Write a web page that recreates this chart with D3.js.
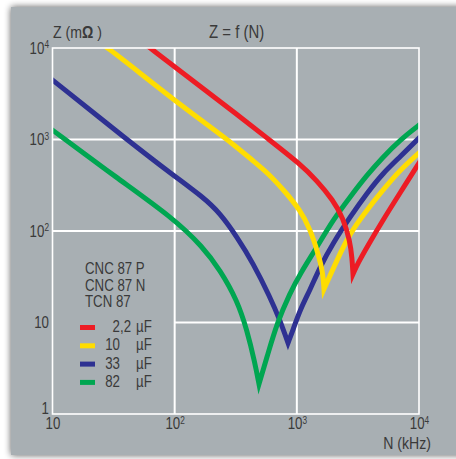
<!DOCTYPE html>
<html>
<head>
<meta charset="utf-8">
<script src="https://cdn.jsdelivr.net/npm/d3@7"></script>
<style>
  html, body { margin: 0; padding: 0; background: #ffffff; }
  svg { display: block; }
  text { font-family: "Liberation Sans", Arial, sans-serif; fill: #3a3a3a; }
</style>
</head>
<body>
<svg id="chart" width="456" height="459"></svg>
<script>
// Impedance versus frequency for four capacitor values (log-log)
const capLabels = ["2,2", "10", "33", "82"];
const capColors = ["#ed1c24", "#ffdd00", "#2e3192", "#00a651"];

// N in kHz, Z in mOhm
const freq22 = [43.1, 62.8, 161, 312, 581, 1061, 1462, 1977, 2387, 2724, 2829, 2883, 3168, 3752, 5074, 6988, 10000, 12300];
const imp22  = [14960, 10000, 3840, 1950, 1018, 543, 354, 218, 140, 77.7, 50.7, 33.9, 44.7, 66.9, 132, 260, 554, 849];

const freq10 = [19.5, 28.5, 52.0, 96.9, 177, 312, 430, 581, 800, 1061, 1282, 1490, 1637, 1668, 2132, 2724, 3752, 5074, 6988, 10000, 12300];
const imp10  = [14220, 10000, 5330, 2771, 1514, 860, 597, 430, 270, 170, 106, 57.5, 34.8, 23.2, 48.2, 95.1, 170, 281, 464, 712, 915];

const freq33 = [7.9, 10, 43.1, 96.9, 170.5, 235, 324, 438, 603, 728, 847, 930, 1061, 1282, 1547, 1977, 2724, 3752, 5074, 6988, 10000, 12300];
const imp33  = [5750, 4470, 939, 409, 235, 157, 86.0, 44.7, 19.0, 10.6, 5.97, 8.28, 13.7, 22.7, 40.4, 73.9, 142, 260, 430, 644, 1038, 1370];

const freq82 = [7.9, 10, 33.7, 96.9, 170.5, 235, 324, 391, 454, 490, 570, 688, 879, 1061, 1462, 1977, 2724, 3752, 5074, 6988, 10000, 12300];
const imp82  = [1593, 1270, 380, 139, 66.9, 37.5, 17.6, 8.28, 3.61, 2.13, 4.20, 9.87, 21.0, 33.9, 66.9, 132, 235, 409, 644, 987, 1440, 1762];

const xTicks = [10, 100, 1000, 10000];
const xTickBase = ["10", "10", "10", "10"];
const xTickExp  = ["", "2", "3", "4"];
const yTicks = [1, 10, 100, 1000, 10000];
const yTickBase = ["1", "10", "10", "10", "10"];
const yTickExp  = ["", "", "2", "3", "4"];

const legendHeader = ["CNC 87 P", "CNC 87 N", "TCN 87"];

const series = [
  { freq: freq22, imp: imp22, color: capColors[0] },
  { freq: freq10, imp: imp10, color: capColors[1] },
  { freq: freq33, imp: imp33, color: capColors[2] },
  { freq: freq82, imp: imp82, color: capColors[3] }
];

const W = 456, H = 459;
const plot = { left: 52.5, right: 419, top: 48, bottom: 414 };
const NARROW = 0.83;   // horizontal squeeze that gives the condensed lettering

const svg = d3.select("#chart");
const defs = svg.append("defs");

// soft drop shadow under the grey panel
const f = defs.append("filter").attr("id", "panelShadow")
  .attr("x", "-10%").attr("y", "-10%").attr("width", "120%").attr("height", "120%");
f.append("feGaussianBlur").attr("in", "SourceAlpha").attr("stdDeviation", 3.5).attr("result", "blur");
f.append("feComponentTransfer").attr("in", "blur").attr("result", "shade")
  .append("feFuncA").attr("type", "linear").attr("slope", 0.65);
const merge = f.append("feMerge");
merge.append("feMergeNode").attr("in", "shade");
merge.append("feMergeNode").attr("in", "SourceGraphic");

defs.append("clipPath").attr("id", "plotClip")
  .append("rect")
  .attr("x", plot.left).attr("y", plot.top)
  .attr("width", plot.right - plot.left).attr("height", plot.bottom - plot.top);

svg.append("rect").attr("width", W).attr("height", H).attr("fill", "#ffffff");
svg.append("rect")
  .attr("x", 11).attr("y", 7).attr("width", 470).attr("height", 448)
  .attr("fill", "#a8afb3")
  .attr("filter", "url(#panelShadow)");

const x = d3.scaleLog().domain([10, 10000]).range([plot.left, plot.right]);
const y = d3.scaleLog().domain([1, 10000]).range([plot.bottom, plot.top]);

// grid
const grid = svg.append("g").attr("stroke", "#ffffff").attr("stroke-width", 2);
grid.selectAll("line.v").data(xTicks.slice(1, -1)).join("line")
  .attr("x1", d => x(d)).attr("x2", d => x(d))
  .attr("y1", plot.top).attr("y2", plot.bottom);
grid.selectAll("line.h").data(yTicks.slice(1, -1)).join("line")
  .attr("x1", d => d === 10 ? x(100) : plot.left).attr("x2", plot.right)
  .attr("y1", d => y(d)).attr("y2", d => y(d));

// curves: smooth branches meeting in a sharp resonance tip
const branch = d3.line().x(d => x(d[0])).y(d => y(d[1])).curve(d3.curveBasis);
const curves = svg.append("g").attr("clip-path", "url(#plotClip)");
const drawOrder = [2, 3, 1, 0];
drawOrder.forEach(i => {
  const s = series[i];
  const pts = s.freq.map((v, k) => [v, s.imp[k]]);
  const tip = d3.minIndex(s.imp);
  const left = branch(pts.slice(0, tip + 1));
  const right = branch(pts.slice(tip)).replace(/^M[^A-Za-z]*/, "");
  curves.append("path")
    .attr("d", left + right)
    .attr("fill", "none")
    .attr("stroke", s.color)
    .attr("stroke-width", 5)
    .attr("stroke-linejoin", "miter")
    .attr("stroke-miterlimit", 14);
});

// frame
svg.append("rect")
  .attr("x", plot.left).attr("y", plot.top)
  .attr("width", plot.right - plot.left).attr("height", plot.bottom - plot.top)
  .attr("fill", "none").attr("stroke", "#ffffff").attr("stroke-width", 1.6);

function powerLabel(sel, base, exp) {
  sel.text(null);
  sel.append("tspan").text(base);
  if (exp) sel.append("tspan").attr("font-size", 10).attr("dy", "-0.55em").text(exp);
}

// y axis
const yAxis = svg.append("g")
  .attr("transform", `translate(${plot.left},0)`)
  .call(d3.axisLeft(y).tickValues(yTicks).tickSize(0).tickPadding(3.5));
yAxis.select(".domain").remove();
yAxis.selectAll(".tick text")
  .attr("font-size", 16)
  .attr("fill", "#3a3a3a")
  .attr("dy", d => d === 1 ? "-0.05em" : "0.32em")
  .each(function(d) {
    const i = yTicks.indexOf(d);
    powerLabel(d3.select(this), yTickBase[i], yTickExp[i]);
  });

// x axis
const xAxis = svg.append("g")
  .attr("transform", `translate(0,${plot.bottom})`)
  .call(d3.axisBottom(x).tickValues(xTicks).tickSize(0).tickPadding(4));
xAxis.select(".domain").remove();
xAxis.selectAll(".tick text")
  .attr("font-size", 16)
  .attr("fill", "#3a3a3a")
  .each(function(d) {
    const i = xTicks.indexOf(d);
    powerLabel(d3.select(this), xTickBase[i], xTickExp[i]);
  });

// titles
const zt = svg.append("text").attr("x", 53).attr("y", 38).attr("font-size", 17);
zt.append("tspan").text("Z (m");
zt.append("tspan").attr("font-weight", "bold").text("Ω");
zt.append("tspan").text(" )");
svg.append("text").attr("x", 209).attr("y", 38).attr("font-size", 18).text("Z = f (N)");
svg.append("text").attr("x", 431).attr("y", 448.5).attr("font-size", 17)
  .attr("text-anchor", "end").text("N (kHz)");

// legend
const lg = svg.append("g");
lg.selectAll("text.head").data(legendHeader).join("text")
  .attr("x", 85).attr("y", (d, i) => 274 + i * 16.5)
  .attr("font-size", 16).text(d => d);
const rowY = i => 327.5 + i * 18.3;
lg.selectAll("rect.sw").data(capColors).join("rect")
  .attr("x", 80).attr("y", (d, i) => rowY(i) - 2.5)
  .attr("width", 15).attr("height", 5).attr("fill", d => d);
capLabels.forEach((lab, i) => {
  const [intPart, frac] = lab.split(",");
  lg.append("text").attr("x", 120).attr("y", rowY(i) + 4.5)
    .attr("font-size", 16).attr("text-anchor", "end").text(intPart);
  if (frac !== undefined) {
    lg.append("text").attr("x", 120).attr("y", rowY(i) + 4.5)
      .attr("font-size", 16).text("," + frac);
  }
  lg.append("text").attr("x", 136).attr("y", rowY(i) + 4.5)
    .attr("font-size", 16).text("µF");
});

// condense every label horizontally around its own anchor point
svg.selectAll("text").each(function() {
  const t = d3.select(this);
  const tx = +t.attr("x") || 0, ty = +t.attr("y") || 0;
  t.attr("x", null).attr("y", null)
   .attr("transform", `translate(${tx},${ty}) scale(${NARROW},1)`);
});
</script>
</body>
</html>
